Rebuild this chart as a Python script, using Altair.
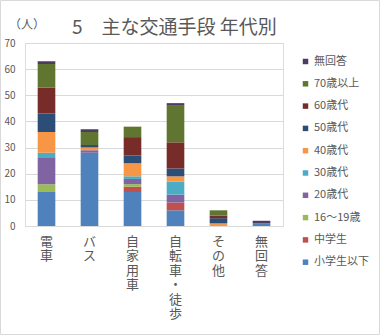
import altair as alt
import pandas as pd

categories = ["電車", "バス", "自家用車", "自転車・徒歩", "その他", "無回答"]
groups = ["小学生以下", "中学生", "16～19歳", "20歳代", "30歳代", "40歳代",
          "50歳代", "60歳代", "70歳以上", "無回答"]
colors = ["#4F81BD", "#C0504D", "#9BBB59", "#8064A2", "#4BACC6", "#F79646",
          "#2C4D75", "#772C2A", "#5F7530", "#4D3B62"]

v_elem = [13, 28, 13, 6, 0, 1]
v_jhs = [0, 0, 2, 3, 0, 0]
v_16_19 = [3, 0, 1, 0, 0, 0]
v_20s = [10, 1, 2, 3, 0, 0]
v_30s = [2, 0, 1, 5, 0, 0]
v_40s = [8, 1, 5, 2, 1, 0]
v_50s = [7, 1, 3, 3, 2, 0]
v_60s = [10, 0, 7, 10, 1, 0]
v_70s = [9, 5, 4, 14, 2, 0]
v_na = [1, 1, 0, 1, 0, 1]

series = [v_elem, v_jhs, v_16_19, v_20s, v_30s, v_40s, v_50s, v_60s, v_70s, v_na]

rows = []
for gi, (g, vals) in enumerate(zip(groups, series)):
    for c, v in zip(categories, vals):
        rows.append({"cat": c, "group": g, "idx": gi, "value": v})
df = pd.DataFrame(rows)

FONT = "Noto Sans CJK JP"
GRAY = "#595959"

bars = alt.Chart(df).mark_bar().encode(
    x=alt.X("cat:N", sort=categories, title=None,
            scale=alt.Scale(paddingInner=0.59, paddingOuter=0.295),
            axis=alt.Axis(labelAngle=0, labelExpr="split(datum.label, '')",
                          labelLineHeight=14.5, labelFontSize=13, labelColor=GRAY,
                          labelPadding=9, ticks=False, domainColor="#D9D9D9",
                          labelFont=FONT, labelBaseline="top")),
    y=alt.Y("value:Q", stack="zero", title=None,
            scale=alt.Scale(domain=[0, 70], nice=False),
            axis=alt.Axis(values=list(range(0, 71, 10)), domain=False, ticks=False,
                          labelPadding=10, labelFontSize=10, labelColor=GRAY,
                          gridColor="#D9D9D9", labelFont=FONT)),
    color=alt.Color("group:N",
                    scale=alt.Scale(domain=groups[::-1], range=colors[::-1]),
                    legend=alt.Legend(title=None, orient="none", legendX=275, legendY=13,
                                      symbolType="square", symbolSize=30,
                                      symbolStrokeWidth=0, labelFontSize=11,
                                      labelColor=GRAY, labelFont=FONT,
                                      rowPadding=10.3, padding=0, labelOffset=3)),
    order=alt.Order("idx:Q", sort="ascending"),
)

one = pd.DataFrame({"t": ["5　主な交通手段 年代別"]})
title = alt.Chart(one).mark_text(align="left", baseline="middle", fontSize=19,
                                 color=GRAY, font=FONT).encode(
    x=alt.value(47), y=alt.value(-15), text="t:N")

unit = alt.Chart(pd.DataFrame({"t": ["（人）"]})).mark_text(
    align="left", baseline="middle", fontSize=12, color=GRAY, font=FONT).encode(
    x=alt.value(-16), y=alt.value(-18), text="t:N")

border = alt.Chart(pd.DataFrame({"a": [0]})).mark_rect(
    fill=None, stroke="#D9D9D9", strokeWidth=1).encode(
    x=alt.value(-24.5), x2=alt.value(354.5), y=alt.value(-42.5), y2=alt.value(291.5))

chart = alt.layer(border, bars, title, unit).properties(
    width=258, height=183,
    padding={"left": 25, "top": 43, "right": 97, "bottom": 109},
    autosize=alt.AutoSizeParams(type="none"),
).configure_view(stroke=None).configure(background="white")

chart.save("out.html", embed_options={"renderer": "svg", "actions": False})
